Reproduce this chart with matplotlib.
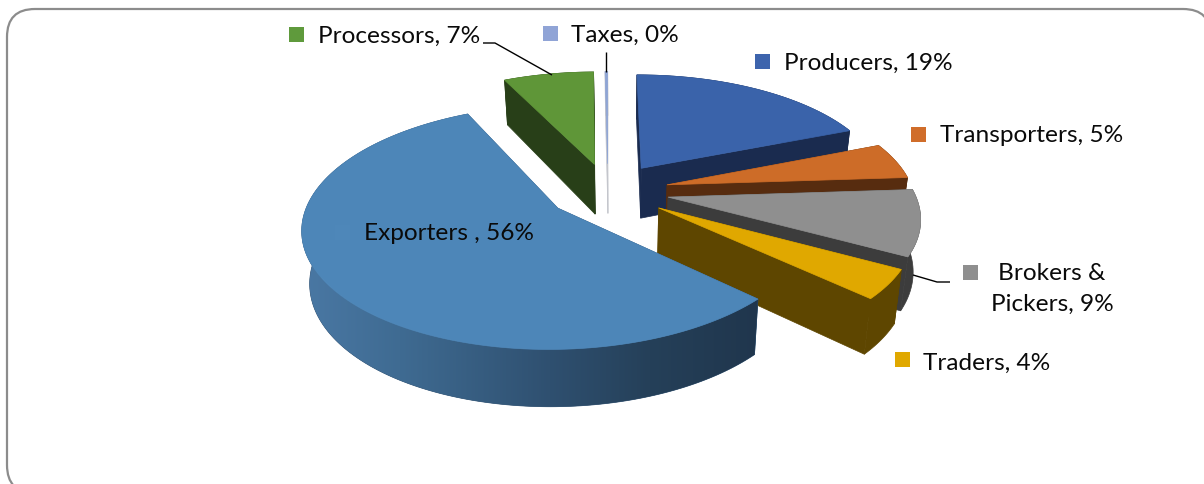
import numpy as np
import matplotlib
matplotlib.use("Agg")
from matplotlib import pyplot as plt, colors
from matplotlib.patches import FancyBboxPatch, Polygon, Rectangle

plt.rcParams["font.family"] = ["Lato", "DejaVu Sans"]

# slices run clockwise from twelve o'clock
names = ["Producers", "Transporters", "Brokers &\nPickers", "Traders", "Exporters ", "Processors", "Taxes"]
shares = [19, 5, 9, 4, 56, 7, 0.2]
top_colors = ["#3a63aa", "#cd6c28", "#8f8f8f", "#e0a800", "#4d86b8", "#5f9638", "#8fa5d5"]
wall_colors = ["#1a2b4f", "#572c0f", "#3c3c3c", "#5e4600", "#2f5070", "#283f18", "#c4c6cc"]
key_colors = ["#3d64ad", "#d06d2a", "#8f8f8f", "#e0a800", "#4e87b9", "#5f9a3c", "#90a4d6"]

# back to front, later slices cover the earlier ones
draw_order = [6, 5, 0, 1, 2, 3, 4]

# exporter wall shading, left to right
ramp_x = [302, 400, 550, 650, 758]
ramp_c = ["#4a78a4", "#3f6b92", "#2f5070", "#254059", "#20364d"]

# pie geometry in pixels
cx, cy = 608, 191
a, b = 246, 114
explode = 0.248
persp = 0.152
vanish_x = 620
shrink = 0.975

# label text, key and anchor positions in pixels
key_xy = [(755, 54), (911, 127), (963, 265), (895, 352), (335, 225), (289, 27), (543, 26)]
text_xy = [(784, 63), (940, 136), (1052, 289), (923, 363), (364, 234), (318, 36), (571, 35)]
leaders = [
    ([483, 495, 552], [43, 43, 75]),
    ([606, 606], [52, 72]),
    ([913, 937, 950], [275, 282, 282]),
]


def top_point(gx, gv):
    # ground plane to screen, with the far side foreshortened
    s = 1 / (1 + persp * gv)
    return cx + a * gx * s, cy - b * gv * s


def low_point(gx, gv):
    x, y = top_point(gx, gv)
    return vanish_x + (x - vanish_x) * shrink, y + 51 - 5.5 * gv


fig = plt.figure(figsize=(12.04, 4.84), dpi=100)
ax = fig.add_axes([0, 0, 1, 1])
ax.axis("off")

ax.add_patch(
    FancyBboxPatch(
        (35, 37), 1148, 428,
        boxstyle="round,pad=28,rounding_size=28",
        fc="white", ec="#8c8c8c", lw=1.6, zorder=1,
    )
)

total = sum(shares)
edges = np.cumsum([0] + shares) / total * 2 * np.pi
ramp_rgb = np.array([colors.to_rgb(c) for c in ramp_c])
z = 2

for i in draw_order:
    t0, t1 = edges[i], edges[i + 1]
    mid = (t0 + t1) / 2
    ox, ov = explode * np.sin(mid), explode * np.cos(mid)
    thetas = np.linspace(t0, t1, max(int(np.degrees(t1 - t0)), 2) + 1)
    gx = ox + np.sin(thetas)
    gv = ov + np.cos(thetas)
    top_xy = [top_point(p, q) for p, q in zip(gx, gv)]
    low_xy = [low_point(p, q) for p, q in zip(gx, gv)]
    apex = top_point(ox, ov)
    apex_low = low_point(ox, ov)
    wc = wall_colors[i]

    # radial faces
    for j in (0, -1):
        quad = [apex, top_xy[j], low_xy[j], apex_low]
        ax.add_patch(Polygon(quad, closed=True, fc=wc, ec=wc, lw=0.5, zorder=z))

    # outer curved wall
    wall = Polygon(top_xy + low_xy[::-1], closed=True, fc=wc, ec=wc, lw=0.5, zorder=z + 1)
    ax.add_patch(wall)
    if names[i].startswith("Exporters"):
        xs = np.arange(ramp_x[0], ramp_x[-1] + 1)
        grad = np.stack([np.interp(xs, ramp_x, ramp_rgb[:, k]) for k in range(3)], axis=1)
        im = ax.imshow(
            grad[np.newaxis, :, :], extent=[xs[0], xs[-1], 420, 220], aspect="auto",
            interpolation="bilinear", zorder=z + 2,
        )
        im.set_clip_path(wall)

    ax.add_patch(
        Polygon([apex] + top_xy, closed=True, fc=top_colors[i], ec=top_colors[i], lw=0.5, zorder=z + 3)
    )
    z += 4

for xs, ys in leaders:
    ax.plot(xs, ys, color="black", lw=1.0, solid_capstyle="butt", zorder=z)

for i, name in enumerate(names):
    ax.add_patch(Rectangle(key_xy[i], 15, 15, fc=key_colors[i], ec="none", zorder=z))
    label = f"{name}, {shares[i]:.0f}%"
    if "\n" in name:
        ax.text(*text_xy[i], label, ha="center", va="center", fontsize=17.6,
                color="#0a0a0a", linespacing=1.58, zorder=z)
    else:
        ax.text(*text_xy[i], label, ha="left", va="center", fontsize=17.6, color="#0a0a0a", zorder=z)

ax.set_xlim(0, 1204)
ax.set_ylim(484, 0)
fig.savefig("out.png", dpi=100)
